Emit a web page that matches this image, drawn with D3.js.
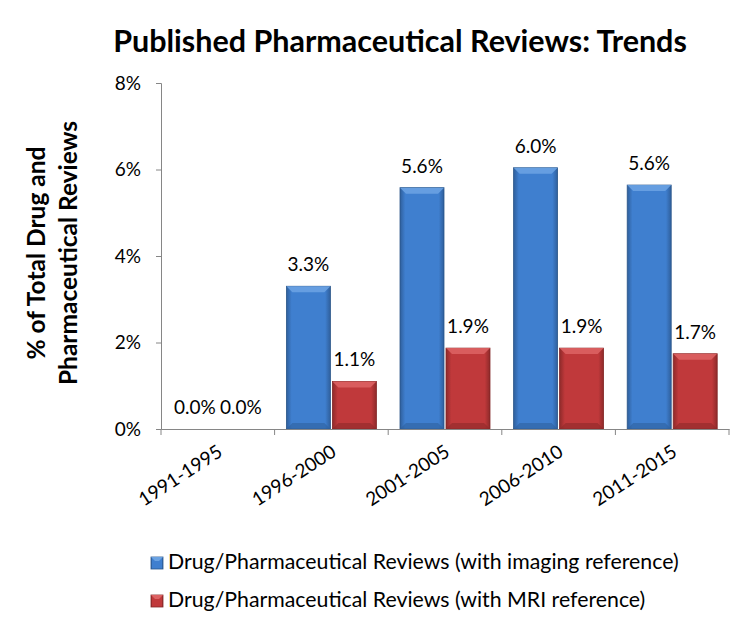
<!DOCTYPE html>
<html><head><meta charset="utf-8">
<script src="https://cdn.jsdelivr.net/npm/d3@7"></script>
<style>body{margin:0;background:#fff}svg{display:block}text{font-family:Lato,"Open Sans",sans-serif}</style>
</head><body>
<svg id="c" width="749" height="639"></svg>
<script>
const categories = ["1991-1995","1996-2000","2001-2005","2006-2010","2011-2015"];
const imagingValues = [0, 3.3, 5.58, 6.04, 5.64];
const mriValues = [0, 1.1, 1.87, 1.87, 1.74];
const yTicks = [0, 2, 4, 6, 8];
const seriesNames = ["Drug/Pharmaceutical Reviews (with imaging reference)","Drug/Pharmaceutical Reviews (with MRI reference)"];
const title = "Published Pharmaceutical Reviews: Trends";
const yTitle = ["% of Total Drug and","Pharmaceutical Reviews"];

const svg = d3.select("#c");
const L = 161, R = 729, T = 83, B = 429;
const x = d3.scaleBand().domain(categories).range([L, R]).paddingInner(0).paddingOuter(0);
const y = d3.scaleLinear().domain([0, 8]).range([B, T]);
const pad = 11.8, gap = 2;
const bw = (x.bandwidth() - 2*pad - gap) / 2;

const defs = svg.append("defs");
function grad(id, edge, mid) {
  const g = defs.append("linearGradient").attr("id", id).attr("x1",0).attr("x2",1).attr("y1",0).attr("y2",0);
  g.append("stop").attr("offset","0").attr("stop-color",edge);
  g.append("stop").attr("offset","0.12").attr("stop-color",mid);
  g.append("stop").attr("offset","0.88").attr("stop-color",mid);
  g.append("stop").attr("offset","1").attr("stop-color",edge);
}
grad("gb","#2f5f9c","#3f7fcf");
grad("gr","#8e2a2a","#c0393b");
const series = [
  {name: seriesNames[0], values: imagingValues, fill: "url(#gb)", stroke: "#2a5589", top: "#6aa2e2", dark:"#2f609f"},
  {name: seriesNames[1], values: mriValues, fill: "url(#gr)", stroke: "#822626", top: "#dc6263", dark:"#8e2a2a"}
];

// title
svg.append("text").attr("x", 400).attr("y", 52).attr("text-anchor","middle")
  .attr("font-size", 30.5).attr("font-weight","bold").attr("fill","#000").text(title);

// y title
yTitle.forEach((t,i)=>{
  svg.append("text").attr("transform",`translate(${45+i*32},253) rotate(-90)`)
    .attr("text-anchor","middle").attr("font-size",24.5).attr("font-weight","bold").attr("fill","#000").text(t);
});

// bars
series.forEach((s, si) => {
  const g = svg.append("g");
  categories.forEach((c, i) => {
    const v = s.values[i];
    const x0 = x(c) + pad + si*(bw+gap);
    const y0 = y(v), h = B - y0;
    if (h > 0.5) {
      g.append("rect").attr("x", x0).attr("y", y0).attr("width", bw).attr("height", h)
        .attr("fill", s.fill).attr("stroke", s.stroke).attr("stroke-width", 0.8);
      const bv = Math.min(6, h/2);
      g.append("path").attr("d", `M${x0},${y0}L${x0+bw},${y0}L${x0+bw-bv},${y0+bv}L${x0+bv},${y0+bv}Z`)
        .attr("fill", s.top).attr("opacity", 0.9);
      g.append("path").attr("d", `M${x0},${B}L${x0+bw},${B}L${x0+bw-bv},${B-bv}L${x0+bv},${B-bv}Z`)
        .attr("fill", s.dark).attr("opacity", 0.6);
    }
    svg.append("text").attr("x", x0 + bw/2).attr("y", y0 - 15).attr("text-anchor","middle")
      .attr("font-size", 19).attr("fill","#000").text(d3.format(".1f")(v) + "%");
  });
});

// axes
const ya = svg.append("g").attr("transform",`translate(${L},0)`)
  .call(d3.axisLeft(y).tickValues(yTicks).tickFormat(d=>d+"%").tickSize(5).tickPadding(15));
ya.select(".domain").attr("stroke","#868686");
ya.selectAll(".tick line").attr("stroke","#868686");
ya.selectAll(".tick text").attr("font-size",19).attr("fill","#000").attr("font-family","Lato,sans-serif");

const xa = svg.append("g").attr("transform",`translate(0,${B})`)
  .call(d3.axisBottom(x).tickSize(0).tickFormat(""));
xa.select(".domain").attr("stroke","#868686");
const bounds = categories.map(c=>x(c)).concat([R]);
xa.selectAll(".bt").data(bounds).enter().append("line").attr("class","bt")
  .attr("x1",d=>d).attr("x2",d=>d).attr("y1",0).attr("y2",6).attr("stroke","#868686");
categories.forEach(c=>{
  svg.append("text").attr("transform",`translate(${x(c)+x.bandwidth()/2+6},${B+26}) rotate(-33)`)
    .attr("text-anchor","end").attr("font-size",19).attr("fill","#000").text(c);
});

// legend
series.forEach((s, i) => {
  const ly = 557 + i*38;
  svg.append("rect").attr("x",151).attr("y",ly).attr("width",12).attr("height",12)
    .attr("fill", s.fill).attr("stroke", s.stroke).attr("stroke-width",0.8);
  svg.append("path").attr("d",`M151,${ly}L163,${ly}L159,${ly+4}L155,${ly+4}Z`).attr("fill", s.top);
  svg.append("text").attr("x",168).attr("y",ly+12).attr("font-size",21.3).attr("fill","#000").text(s.name);
});
</script>
</body></html>
